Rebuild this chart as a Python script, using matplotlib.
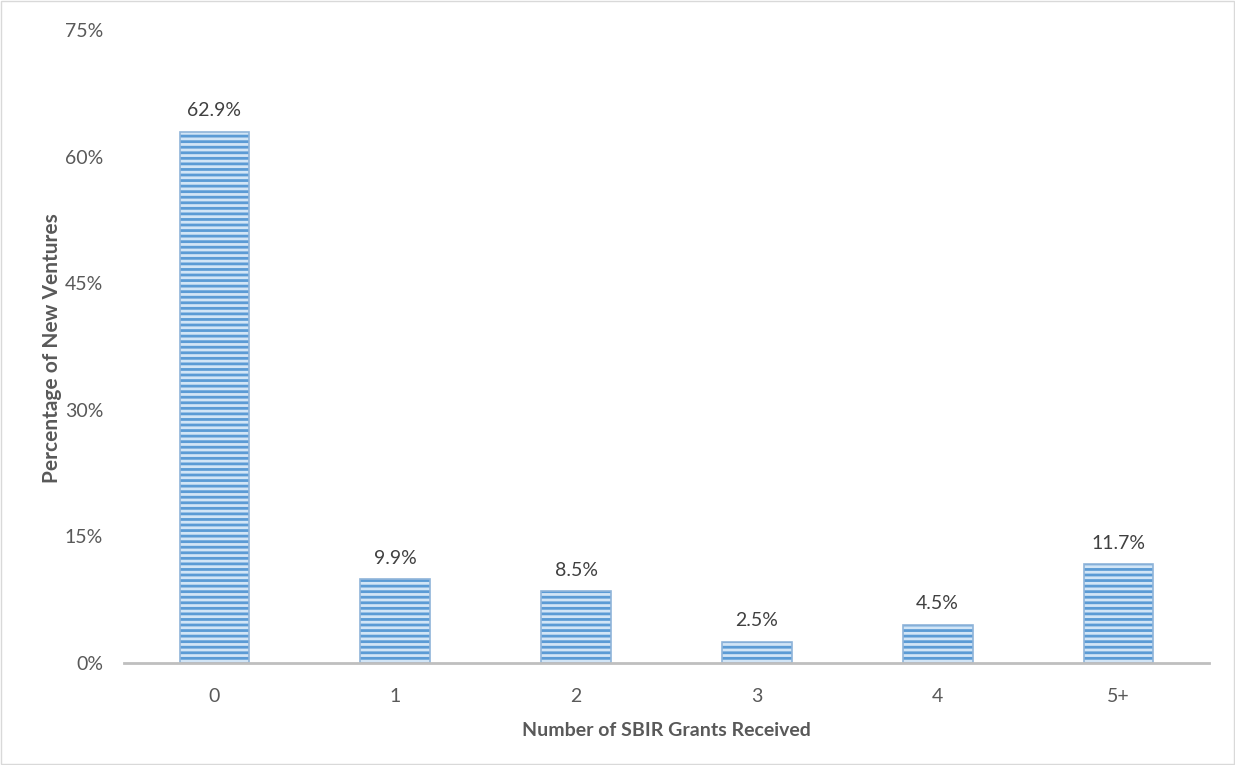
import matplotlib
matplotlib.use("Agg")
import matplotlib.pyplot as plt
from matplotlib.patches import Rectangle
from matplotlib.ticker import FuncFormatter

categories = ["0", "1", "2", "3", "4", "5+"]
values = [62.9, 9.9, 8.5, 2.5, 4.5, 11.7]
yticks = [0, 15, 30, 45, 60, 75]

plt.rcParams["font.family"] = ["Lato", "DejaVu Sans"]
plt.rcParams["hatch.linewidth"] = 2.0

fig = plt.figure(figsize=(12.35, 7.65), dpi=100)
ax = fig.add_axes([0.1004, 0.1333, 0.8785, 0.8275])

x = range(len(categories))
bars = ax.bar(x, values, width=0.385, color="#D2E5F6", edgecolor="#5B9BD5",
              hatch="---", linewidth=0)
# thin outline around each bar, like the soft edge in the original
ax.bar(x, values, width=0.385, fill=False, edgecolor="#8FB4D9", linewidth=1.2)

for xi, v in zip(x, values):
    ax.text(xi, v + 1.5, f"{v:.1f}%", ha="center", va="bottom", fontsize=14, color="#404040")

ax.set_xlim(-0.5, 5.5)
ax.set_ylim(0, 75)
ax.set_yticks(yticks)
ax.yaxis.set_major_formatter(FuncFormatter(lambda v, p: f"{v:.0f}%"))
ax.set_xticks(list(x))
ax.set_xticklabels(categories)
ax.tick_params(axis="both", length=0, labelsize=14, labelcolor="#595959")
ax.tick_params(axis="y", pad=15)
ax.tick_params(axis="x", pad=18)

for s in ["top", "right", "left"]:
    ax.spines[s].set_visible(False)
ax.spines["bottom"].set_color("#BFBFBF")
ax.spines["bottom"].set_linewidth(2)

ax.set_xlabel("Number of SBIR Grants Received", fontsize=14, fontweight="bold",
              color="#595959", labelpad=12)
ax.set_ylabel("Percentage of New Ventures", fontsize=15, fontweight="bold",
              color="#595959")
ax.yaxis.set_label_coords(-0.066, 0.497)
ax.yaxis.label.set_va("center")

fig.patches.append(Rectangle((0.001, 0.001), 0.998, 0.998, transform=fig.transFigure,
                             fill=False, edgecolor="#D9D9D9", linewidth=1))

fig.savefig("out.png", dpi=100)
